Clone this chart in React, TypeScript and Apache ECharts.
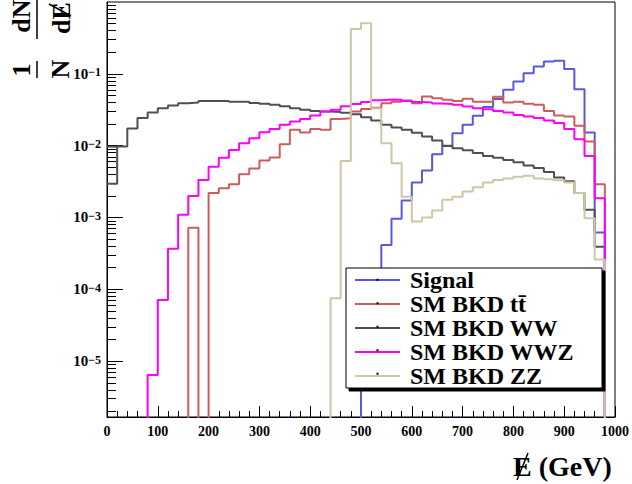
import React, { useEffect, useRef } from "react";
import * as echarts from "echarts";

// 20 GeV bins from 0 to 1000 GeV (lower edges)
const BIN_WIDTH = 20;
const BIN_LOW = Array.from({ length: 50 }, (_, i) => i * BIN_WIDTH);

const SIGNAL = [
  0, 0, 0, 0, 0, 0, 0, 0, 0, 0,
  0, 0, 0, 0, 0, 0, 0, 0, 0, 0,
  0, 0, 0, 0, 0, 1.2e-5, 6e-5, 4.15e-4, 9.6e-4, 1.72e-3,
  3.07e-3, 4.5e-3, 7.6e-3, 9.9e-3, 0.0149, 0.0195, 0.026, 0.0344, 0.0445, 0.0598,
  0.0782, 0.102, 0.126, 0.148, 0.152, 0.117, 0.0612, 0.0152, 6.2e-4, 0,
];
const TTBAR = [
  0, 0, 0, 0, 0, 0, 0, 0, 7.2e-4, 0,
  2.2e-3, 2.56e-3, 2.9e-3, 4.0e-3, 4.8e-3, 6.2e-3, 6.85e-3, 0.0105, 0.0166, 0.0152,
  0.0171, 0.0166, 0.0236, 0.0241, 0.0298, 0.0325, 0.0338, 0.039, 0.041, 0.0425,
  0.039, 0.0483, 0.0458, 0.0435, 0.042, 0.0449, 0.041, 0.041, 0.0478, 0.0399,
  0.041, 0.0382, 0.037, 0.0305, 0.0263, 0.0254, 0.0189, 0.0114, 2.9e-3, 0,
];
const WW = [
  2.94e-3, 9.7e-3, 0.0173, 0.0242, 0.0289, 0.0333, 0.0362, 0.0391, 0.0398, 0.0417,
  0.0417, 0.042, 0.041, 0.041, 0.0394, 0.0382, 0.0372, 0.0355, 0.0333, 0.0315,
  0.0305, 0.0298, 0.0295, 0.0287, 0.0273, 0.0249, 0.0224, 0.0195, 0.0179, 0.0166,
  0.0151, 0.0134, 0.0118, 0.01, 0.0092, 0.0086, 0.0079, 0.0072, 0.0068, 0.0063,
  0.0059, 0.0053, 0.0049, 0.0043, 0.0036, 0.0032, 0.0022, 1.28e-3, 3.9e-4, 0,
];
const WWZ = [
  0, 0, 0, 0, 6.4e-6, 7.1e-5, 3.66e-4, 1.09e-3, 2.0e-3, 3.34e-3,
  5.1e-3, 6.8e-3, 8.7e-3, 0.0108, 0.0127, 0.0154, 0.0171, 0.0195, 0.0217, 0.0236,
  0.0263, 0.0299, 0.0315, 0.0355, 0.038, 0.0405, 0.043, 0.0439, 0.0435, 0.0417,
  0.0404, 0.04, 0.0385, 0.038, 0.037, 0.0351, 0.0333, 0.0322, 0.0305, 0.0289,
  0.0268, 0.0254, 0.0242, 0.0224, 0.0206, 0.017, 0.0123, 0.0072, 1.86e-3, 0,
];
const ZZ = [
  0, 0, 0, 0, 0, 0, 0, 0, 0, 0,
  0, 0, 0, 0, 0, 0, 0, 0, 0, 0,
  0, 0, 7.5e-5, 6.1e-3, 0.42, 0.508, 0.033, 0.0108, 5.7e-3, 1.95e-3,
  8.8e-4, 1.0e-3, 1.25e-3, 1.76e-3, 1.95e-3, 2.3e-3, 2.64e-3, 3.07e-3, 3.34e-3, 3.5e-3,
  3.7e-3, 3.8e-3, 3.5e-3, 3.4e-3, 3.3e-3, 3.07e-3, 2.2e-3, 9.8e-4, 2.6e-4, 0,
];

const SERIES_NAMES = ["Signal", "SM BKD t\u0074\u0304", "SM BKD WW", "SM BKD WWZ", "SM BKD ZZ"];
const SERIES_VALUES = [SIGNAL, TTBAR, WW, WWZ, ZZ];
const SERIES_COLORS = ["#5858dc", "#cd5c5c", "#505050", "#ff00ff", "#cfc6a6"];

const X_MIN = 0;
const X_MAX = 1000;
const X_TICK = 100;
const Y_MIN_VALUE = 1.67e-6;
const Y_MAX_VALUE = 1.0;
const Y_MAJOR_EXP = [-5, -4, -3, -2, -1];

const SERIF = '"Liberation Serif", "Times New Roman", serif';

const LEGEND_LEFT = 346;
const LEGEND_TOP = 268;
const LEGEND_ROW = 23.5;
const LEGEND_PAD_LEFT = 9;
const LEGEND_ICON_W = 45;

const lg = (v: number) => (v > 0 ? Math.log10(v) : -9);

function histPoints(vals: number[]) {
  const pts: number[][] = [];
  vals.forEach((v, i) => {
    pts.push([BIN_LOW[i], lg(v)]);
    pts.push([BIN_LOW[i] + BIN_WIDTH, lg(v)]);
  });
  return pts;
}

export default function App() {
  const ref = useRef<HTMLDivElement>(null);
  useEffect(() => {
    if (!ref.current) return;
    const chart = echarts.init(ref.current, undefined, { renderer: "svg" });
    const yMin = Math.log10(Y_MIN_VALUE);
    const yMax = Math.log10(Y_MAX_VALUE);
    const minor: number[] = [];
    for (let n = -7; n <= 0; n++) {
      for (let k = 2; k <= 9; k++) {
        const v = n + Math.log10(k);
        if (v > yMin && v < yMax) minor.push(v);
      }
    }
    const series: any[] = SERIES_VALUES.map((vals, i) => ({
      type: "line",
      name: SERIES_NAMES[i],
      data: histPoints(vals),
      symbol: "none",
      clip: true,
      lineStyle: { color: SERIES_COLORS[i], width: 2 },
      itemStyle: { color: SERIES_COLORS[i] },
      z: 2,
    }));
    // extra top segment of first WW bin as seen in the original drawing
    series.push({
      type: "line",
      data: [
        [BIN_LOW[0], lg(WW[1])],
        [BIN_LOW[1], lg(WW[1])],
      ],
      symbol: "none",
      lineStyle: { color: SERIES_COLORS[2], width: 2 },
      z: 2,
    });

    const titleFont = { fontFamily: SERIF, fontWeight: "bold", fontSize: 26, fill: "#000" };
    const ctr = { align: "center", verticalAlign: "middle", textAlign: "center", textVerticalAlign: "middle" };
    const legendDots = SERIES_NAMES.map((_, i) => ({
      type: "rect",
      z: 100,
      shape: {
        x: LEGEND_LEFT + LEGEND_PAD_LEFT + LEGEND_ICON_W / 2 - 1,
        y: LEGEND_TOP + LEGEND_ROW / 2 + LEGEND_ROW * i - 1,
        width: 2,
        height: 2,
      },
      style: { fill: "#000" },
    }));
    chart.setOption({
      animation: false,
      grid: {
        left: 107,
        right: 15,
        top: 2,
        bottom: 67,
        show: true,
        borderColor: "#000",
        borderWidth: 1,
        backgroundColor: "#fff",
      },
      legend: {
        data: SERIES_NAMES,
        orient: "vertical",
        left: LEGEND_LEFT,
        top: LEGEND_TOP,
        itemGap: 0,
        itemWidth: LEGEND_ICON_W,
        itemHeight: 2,
        icon: "rect",
        padding: [0, 28, 0, LEGEND_PAD_LEFT],
        backgroundColor: "#fff",
        borderColor: "#000",
        borderWidth: 1,
        shadowColor: "#000",
        shadowBlur: 0,
        shadowOffsetX: 3,
        shadowOffsetY: 3,
        selectedMode: false,
        textStyle: {
          fontFamily: SERIF,
          fontWeight: "bold",
          fontSize: 24,
          lineHeight: LEGEND_ROW,
          color: "#000",
          padding: [0, 0, 0, 5],
        },
        z: 10,
      },
      xAxis: {
        type: "value",
        min: X_MIN,
        max: X_MAX,
        interval: X_TICK,
        axisLine: { show: true, onZero: false, lineStyle: { color: "#000", width: 1 } },
        axisTick: { show: true, inside: true, length: 11, lineStyle: { color: "#000", width: 1 } },
        minorTick: { show: true, splitNumber: 5, length: 6, lineStyle: { color: "#000", width: 1 } },
        splitLine: { show: false },
        axisLabel: {
          show: true,
          margin: 7,
          fontFamily: SERIF,
          fontWeight: "bold",
          fontSize: 14,
          color: "#000",
          showMinLabel: true,
          showMaxLabel: true,
          formatter: (v: number) => String(v),
        },
      },
      yAxis: [
        {
          type: "value",
          min: yMin,
          max: yMax,
          axisLine: { show: true, onZero: false, lineStyle: { color: "#000", width: 1 } },
          axisTick: {
            show: true,
            inside: true,
            length: 16,
            customValues: Y_MAJOR_EXP,
            lineStyle: { color: "#000", width: 1 },
          },
          splitLine: { show: false },
          axisLabel: {
            show: true,
            margin: 6,
            customValues: Y_MAJOR_EXP,
            formatter: (v: number) => `{b|10}{s|\u2212${Math.round(-v)}}`,
            rich: {
              b: {
                fontFamily: SERIF,
                fontWeight: "bold",
                fontSize: 15,
                lineHeight: 15,
                padding: [4, 0, 0, 0],
                color: "#000",
                verticalAlign: "bottom",
              },
              s: {
                fontFamily: SERIF,
                fontWeight: "bold",
                fontSize: 12,
                lineHeight: 12,
                color: "#000",
                verticalAlign: "top",
              },
            },
          },
        },
        {
          type: "value",
          min: yMin,
          max: yMax,
          position: "left",
          axisLine: { show: false },
          axisTick: {
            show: true,
            inside: true,
            length: 9,
            customValues: minor,
            lineStyle: { color: "#000", width: 1 },
          },
          splitLine: { show: false },
          axisLabel: { show: false },
        },
      ],
      graphic: [
        {
          type: "group",
          x: 37,
          y: 80,
          rotation: Math.PI / 2,
          children: [
            { type: "text", x: 10, y: -16, style: { ...titleFont, ...ctr, text: "1" } },
            { type: "text", x: 11, y: 23, style: { ...titleFont, ...ctr, text: "N" } },
            { type: "line", shape: { x1: 2, y1: 0, x2: 19, y2: 0 }, style: { stroke: "#000", lineWidth: 1.5 } },
            { type: "text", x: 64, y: -15.5, style: { ...titleFont, ...ctr, text: "dN" } },
            { type: "text", x: 62, y: 24, style: { ...titleFont, ...ctr, text: "dE" } },
            { type: "line", shape: { x1: 64, y1: 34, x2: 76, y2: 12 }, style: { stroke: "#000", lineWidth: 1.5 } },
            { type: "line", shape: { x1: 41, y1: 0, x2: 84, y2: 0 }, style: { stroke: "#000", lineWidth: 1.5 } },
          ],
        },
        {
          type: "text",
          x: 513,
          y: 466,
          style: {
            text: "E (GeV)",
            fontFamily: SERIF,
            fontWeight: "bold",
            fontSize: 28,
            fill: "#000",
            align: "left",
            verticalAlign: "middle",
            textAlign: "left",
            textVerticalAlign: "middle",
          },
        },
        {
          type: "line",
          shape: { x1: 517, y1: 480, x2: 528, y2: 453 },
          style: { stroke: "#000", lineWidth: 1.5 },
        },
        ...legendDots,
      ],
      series,
    });
    return () => chart.dispose();
  }, []);
  return (
    <div
      ref={ref}
      style={{ position: "fixed", left: 0, top: 0, width: 632, height: 484, background: "#fff" }}
    />
  );
}
